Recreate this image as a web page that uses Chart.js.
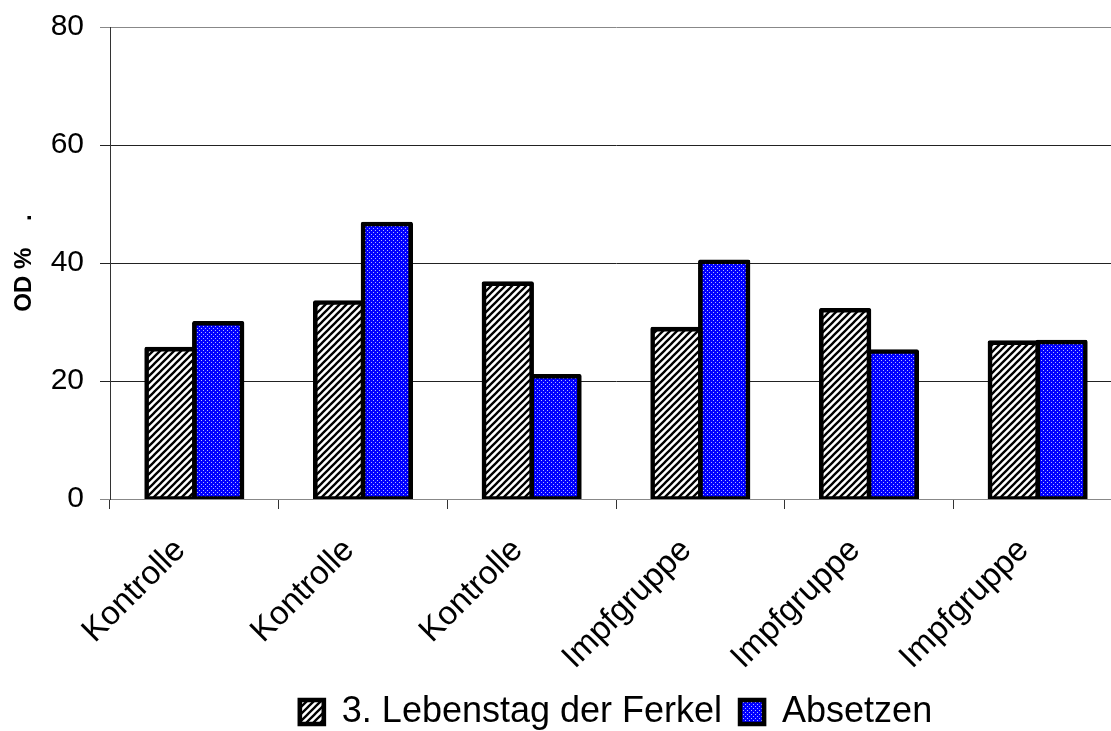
<!DOCTYPE html>
<html><head><meta charset="utf-8">
<script src="https://cdn.jsdelivr.net/npm/chart.js@4.4.1/dist/chart.umd.min.js"></script>
<style>html,body{margin:0;padding:0;background:#fff;overflow:hidden;width:1111px;height:731px}canvas{display:block}</style>
</head><body>
<canvas id="c" width="1122" height="731"></canvas>
<script>
const categories = ["Kontrolle", "Kontrolle", "Kontrolle", "Impfgruppe", "Impfgruppe", "Impfgruppe"];
const seriesNames = ["3. Lebenstag der Ferkel", "Absetzen"];
const lebenstag3 = [25.4, 33.3, 36.5, 28.8, 32.0, 26.5];
const absetzen = [29.8, 46.6, 20.8, 40.2, 25.0, 26.6];
const yTicks = [0, 20, 40, 60, 80];
const yTitle = "OD %\u00a0\u00a0\u00a0\u00a0.";

const FAMILY = "'Liberation Sans', Arial, Helvetica, sans-serif";

function hatchPattern() {
  const n = 7;
  const c = document.createElement('canvas');
  c.width = n; c.height = n;
  const g = c.getContext('2d');
  g.fillStyle = '#fff';
  g.fillRect(0, 0, n, n);
  g.strokeStyle = '#000';
  g.lineWidth = 2.3;
  g.beginPath();
  for (let k = -1; k <= 1; k++) {
    g.moveTo(-n + k * n, 2 * n);
    g.lineTo(2 * n + k * n, -n);
  }
  g.stroke();
  return g.createPattern(c, 'repeat');
}
function dotPattern() {
  const c = document.createElement('canvas');
  c.width = 4; c.height = 4;
  const g = c.getContext('2d');
  g.fillStyle = '#0000ff';
  g.fillRect(0, 0, 4, 4);
  g.fillStyle = '#b4b4ff';
  g.fillRect(1, 0, 1, 1);
  g.fillRect(3, 2, 1, 1);
  return g.createPattern(c, 'repeat');
}

const barStyle = {
  borderColor: '#000',
  borderWidth: 4.6,
  inflateAmount: 2.3,
  borderSkipped: false,
  borderRadius: 2,
  categoryPercentage: 0.566,
  barPercentage: 1.0
};

new Chart(document.getElementById('c'), {
  type: 'bar',
  data: {
    labels: categories,
    datasets: [
      Object.assign({ label: seriesNames[0], data: lebenstag3, backgroundColor: hatchPattern() }, barStyle),
      Object.assign({ label: seriesNames[1], data: absetzen, backgroundColor: dotPattern() }, barStyle)
    ]
  },
  options: {
    responsive: false,
    animation: false,
    devicePixelRatio: 1,
    layout: { padding: { top: 27, left: 0, right: 0, bottom: 0 } },
    plugins: {
      legend: {
        position: 'bottom',
        fullSize: false,
        maxHeight: 55,
        labels: {
          font: { size: 36, family: FAMILY },
          color: '#000',
          boxWidth: 24,
          boxHeight: 24,
          padding: 18
        }
      },
      tooltip: { enabled: false }
    },
    scales: {
      x: {
        grid: { offset: true, drawOnChartArea: false, drawTicks: true, tickLength: 10, color: '#333', lineWidth: 1 },
        border: { color: '#888', width: 1 },
        ticks: { maxRotation: 45, minRotation: 45, font: { size: 33, family: FAMILY }, color: '#000', padding: 22, labelOffset: -14 },
        afterFit(s) { s.height = 177; s.paddingLeft = 0; s.paddingRight = 0; }
      },
      y: {
        min: 0, max: 80,
        afterBuildTicks(s) { s.ticks = yTicks.map(v => ({ value: v })); },
        grid: {
          color: (c) => (c.tick && (c.tick.value === 80 || c.tick.value === 0)) ? '#888' : '#222',
          tickLength: 10,
          lineWidth: 1
        },
        border: { color: '#333', width: 1 },
        ticks: { font: { size: 30, family: FAMILY }, color: '#000', padding: 16 },
        title: {
          display: true,
          text: yTitle,
          color: '#000',
          font: { size: 24, weight: 'bold', family: FAMILY },
          padding: { top: 10, bottom: 0 }
        },
        afterFit(s) { s.width = 110; s.paddingTop = 0; s.paddingBottom = 0; }
      }
    }
  }
});
</script>
</body></html>
